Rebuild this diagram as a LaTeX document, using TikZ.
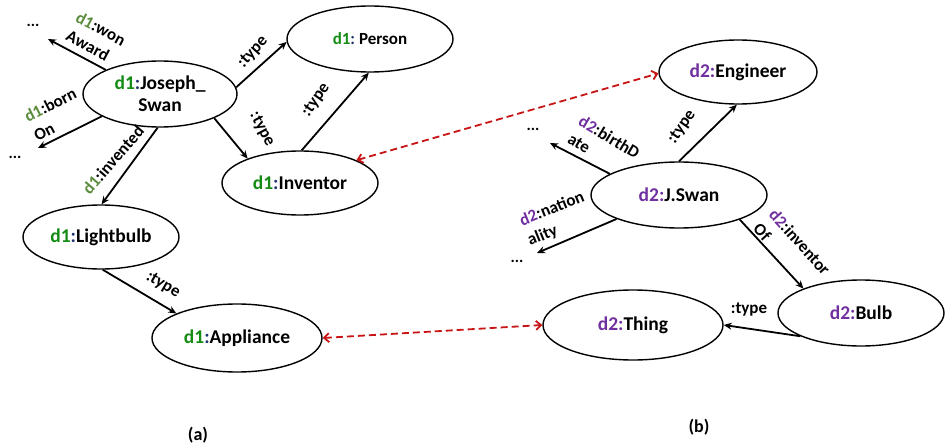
\documentclass[tikz,border=0pt]{standalone}
\usepackage{fontspec}
\setmainfont{Carlito}
\usetikzlibrary{shapes.geometric,arrows.meta}
\definecolor{gA}{RGB}{20,140,20}
\definecolor{gL}{RGB}{90,140,60}
\definecolor{pu}{RGB}{112,48,160}
\definecolor{nv}{RGB}{30,50,110}
\definecolor{rd}{RGB}{200,20,20}
\newcommand\dA{\textcolor{gA}{d1}\textcolor{nv}{:}}
\newcommand\dB{\textcolor{pu}{d2:}}
\newcommand\lA{\textcolor{gL}{d1}:}
\newcommand\lB{\textcolor{pu}{d2}:}
\begin{document}
\begin{tikzpicture}[x=1pt,y=-1pt,
  ent/.style={ellipse,draw,line width=1.4pt,inner sep=0pt,font=\fontsize{19.5}{22}\selectfont\bfseries,align=center},
  rel/.style={-{Stealth[length=8pt,width=7pt]},line width=1.8pt},
  eqv/.style={{Straight Barb[length=5pt,width=9pt]}-{Straight Barb[length=5pt,width=9pt]},line width=1.8pt,draw=rd,dash pattern=on 7pt off 4pt},
  lab/.style={font=\fontsize{17}{21}\selectfont\bfseries,inner sep=0pt,align=left},
  dotsn/.style={font=\fontsize{16}{18}\selectfont\bfseries,inner sep=0pt},
  captext/.style={font=\fontsize{18}{20}\selectfont\bfseries,inner sep=0pt}]
\path[use as bounding box] (0,0) rectangle (946,444);

% nodes (a)
\node[ent,minimum width=154,minimum height=66] (js) at (160,94) {\dA Joseph\_\\Swan};
\node[ent,minimum width=166,minimum height=66,font=\fontsize{17}{20}\selectfont\bfseries] (per) at (370,39) {\dA\ Person};
\node[ent,minimum width=156,minimum height=64] (inv) at (300,183) {\dA Inventor};
\node[ent,minimum width=156,minimum height=64] (lb) at (101,237) {\dA Lightbulb};
\node[ent,minimum width=170,minimum height=68] (app) at (237,338) {\dA Appliance};

% nodes (b)
\node[ent,minimum width=158,minimum height=64] (eng) at (738,72) {\dB Engineer};
\node[ent,minimum width=176,minimum height=66] (jsw) at (679,195) {\dB J.Swan};
\node[ent,minimum width=166,minimum height=66] (bulb) at (861,313) {\dB Bulb};
\node[ent,minimum width=180,minimum height=70] (thg) at (633,325) {\dB Thing};

% free ends
\coordinate (wA) at (48,39);
\coordinate (bO) at (38,148);
\coordinate (bD) at (550,143);
\coordinate (nA) at (537,253);

% edges (a)
\draw[rel] (js.5) -- (per.182);
\draw[rel] (js.-24) -- (inv.155);
\draw[rel] (inv.87) -- (per.268);
\draw[rel] (js.156) -- (wA);
\draw[rel] (js.201) -- (bO);
\draw[rel] (js.266) -- (lb.89);
\draw[rel] (lb.273) -- (app.158);

% edges (b)
\draw[rel] (jsw.90) -- (eng.268);
\draw[rel] (jsw.163) -- (bD);
\draw[rel] (jsw.201) -- (nA);
\draw[rel] (jsw.-22) -- (bulb.157);
\draw[rel] (bulb.201) -- (thg.0);

% equivalences
\draw[eqv] (inv.22) -- (eng.181);
\draw[eqv] (app.0) -- (thg.180);

% labels
\node[lab,rotate=48] (t1) at (253,52) {:type};
\node[lab,rotate=-62] (t2) at (262,129) {:type};
\node[lab,rotate=55] (t3) at (316,100) {:type};
\node[lab,rotate=-28] (l1) at (96,38) {\lA won\\Award};
\node[lab,rotate=27] (l2) at (55,114) {\lA born\\On};
\node[lab,rotate=49] (l3) at (113,160) {\lA invented};
\node[lab,rotate=-30] (t4) at (163,285) {:type};
\node[lab,rotate=55] (t5) at (682,127) {:type};
\node[lab,rotate=-31] (l4) at (604,146) {\lB birthD\\ate};
\node[lab,rotate=22] (l5) at (556,219) {\lB nation\\ality};
\node[lab,rotate=-48] (l6) at (792,249) {\lB inventor\\Of};
\node[lab] (t6) at (749,309) {:type};

% dots
\node[dotsn] (x1) at (33,25) {...};
\node[dotsn] (x2) at (15,157) {...};
\node[dotsn] (x3) at (533,129) {...};
\node[dotsn] (x4) at (517,261) {...};

% captions
\node[captext] (ca) at (198,435) {(a)};
\node[captext] (cb) at (699,427) {(b)};
\end{tikzpicture}
\end{document}
